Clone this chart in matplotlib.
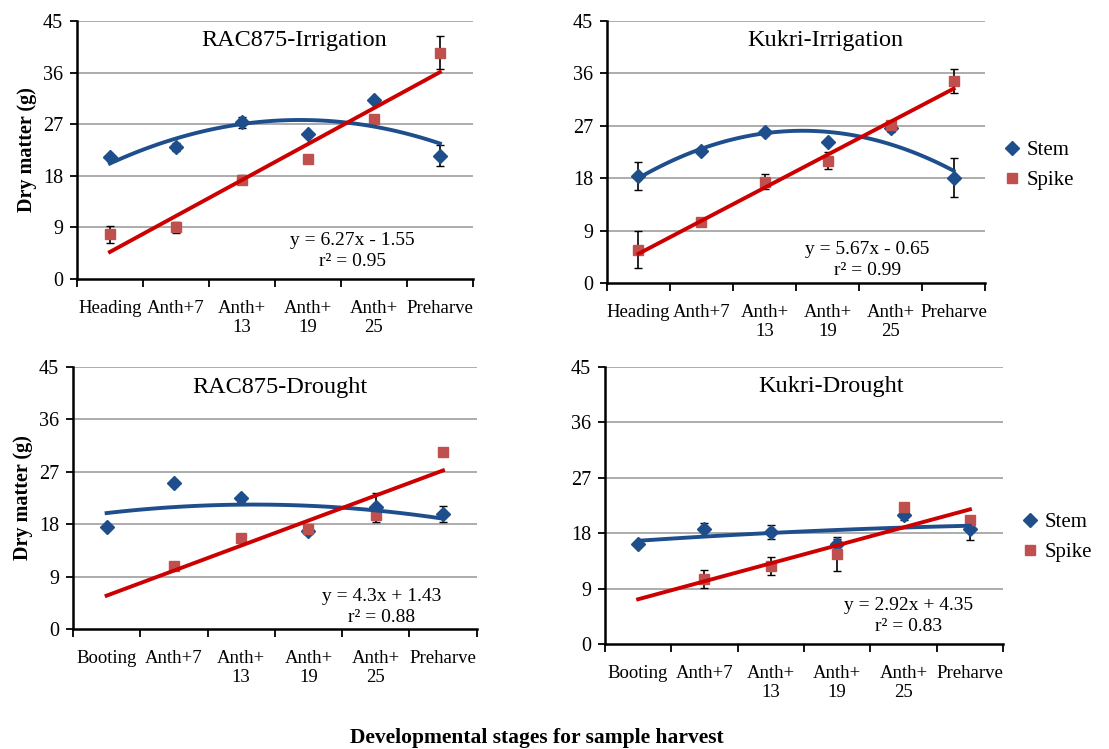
import matplotlib.pyplot as plt
import numpy as np

plt.rcParams["font.family"] = ["Liberation Serif", "DejaVu Serif"]

# valores medios de materia seca (g) por estadio
stages_irr = ["Heading", "Anth+7", "Anth+\n13", "Anth+\n19", "Anth+\n25", "Preharve"]
stages_dro = ["Booting", "Anth+7", "Anth+\n13", "Anth+\n19", "Anth+\n25", "Preharve"]

rac_irr_stem = [21.2, 23.0, 27.3, 25.3, 31.3, 21.5]
rac_irr_stem_err = [0.5, 0.7, 0.9, 0.0, 0.0, 1.8]
rac_irr_spike = [7.8, 9.0, 17.3, 21.0, 27.9, 39.5]
rac_irr_spike_err = [1.5, 1.0, 0.8, 0.0, 0.0, 2.8]

kuk_irr_stem = [18.4, 22.6, 25.9, 24.2, 26.6, 18.1]
kuk_irr_stem_err = [2.35, 0.5, 0.4, 0.0, 0.6, 3.4]
kuk_irr_spike = [5.7, 10.4, 17.4, 21.0, 27.1, 34.7]
kuk_irr_spike_err = [3.2, 0.0, 1.3, 1.5, 0.8, 2.0]

rac_dro_stem = [17.5, 25.1, 22.5, 16.9, 20.9, 19.8]
rac_dro_stem_err = [0.0, 0.5, 0.6, 0.6, 2.5, 1.4]
rac_dro_spike = [np.nan, 10.8, 15.6, 17.2, 19.6, 30.4]
rac_dro_spike_err = [0.0, 0.0, 0.0, 0.0, 0.0, 0.0]

kuk_dro_stem = [16.2, 18.7, 18.2, 16.2, 20.9, 18.7]
kuk_dro_stem_err = [0.0, 1.0, 1.2, 0.8, 0.8, 1.8]
kuk_dro_spike = [np.nan, 10.6, 12.7, 14.6, 22.3, 20.2]
kuk_dro_spike_err = [0.0, 1.5, 1.5, 2.8, 0.3, 0.4]

# recta de tendencia de la espiga (pendiente, ordenada, r2)
slopes = [6.27, 5.67, 4.3, 2.92]
intercepts = [-1.55, -0.65, 1.43, 4.35]
r2 = [0.95, 0.99, 0.88, 0.83]

titles = ["RAC875-Irrigation", "Kukri-Irrigation", "RAC875-Drought", "Kukri-Drought"]

stem_c = "#1F4E8C"
spike_c = "#C0504D"
red = "#CC0000"

fig = plt.figure(figsize=(11.09, 7.49), dpi=100)

boxes = [
    [0.0694, 0.6275, 0.357, 0.3445],
    [0.5473, 0.6222, 0.341, 0.3498],
    [0.0658, 0.1602, 0.364, 0.3498],
    [0.5455, 0.1402, 0.359, 0.3698],
]
eq_pos = [(4.68, 6.8, 3.0), (4.63, 5.8, 2.1), (5.09, 5.5, 1.9), (5.08, 6.2, 2.9)]
title_pos = [(0.548, 0.925), (0.577, 0.925), (0.513, 0.922), (0.568, 0.93)]
legend_y = [None, 0.45, None, 0.386]

data = [
    (stages_irr, rac_irr_stem, rac_irr_stem_err, rac_irr_spike, rac_irr_spike_err),
    (stages_irr, kuk_irr_stem, kuk_irr_stem_err, kuk_irr_spike, kuk_irr_spike_err),
    (stages_dro, rac_dro_stem, rac_dro_stem_err, rac_dro_spike, rac_dro_spike_err),
    (stages_dro, kuk_dro_stem, kuk_dro_stem_err, kuk_dro_spike, kuk_dro_spike_err),
]

x = np.arange(1, 7)

for i in range(4):
    ax = fig.add_axes(boxes[i])
    labels, stem, stem_err, spike, spike_err = data[i]

    for yv in [9, 18, 27, 36, 45]:
        ax.axhline(yv, color="#A6A6A6", lw=1.3, zorder=0)

    ax.errorbar(x, stem, yerr=stem_err, fmt="none", ecolor="black", elinewidth=1.2, capsize=3, zorder=2)
    ax.errorbar(x, spike, yerr=spike_err, fmt="none", ecolor="black", elinewidth=1.2, capsize=3, zorder=2)
    h1, = ax.plot(x, stem, "D", color=stem_c, ms=7, ls="none", zorder=3, label="Stem")
    h2, = ax.plot(x, spike, "s", color=spike_c, ms=6.5, ls="none", zorder=3, label="Spike")

    # tendencia polinomica de orden 2 para el tallo
    coef = np.polyfit(x, stem, 2)
    xs = np.linspace(1, 6, 100)
    ax.plot(xs, np.polyval(coef, xs), color=stem_c, lw=2.8, zorder=4)

    # tendencia lineal de la espiga
    xl = np.array([1, 6])
    ax.plot(xl, slopes[i] * xl + intercepts[i], color=red, lw=2.8, zorder=4)

    sign = "-" if intercepts[i] < 0 else "+"
    ex, ey1, ey2 = eq_pos[i]
    ax.text(ex, ey1, "y = %gx %s %.2f" % (slopes[i], sign, abs(intercepts[i])), ha="center", va="center", fontsize=14)
    ax.text(ex, ey2, "r\u00b2 = %.2f" % r2[i], ha="center", va="center", fontsize=14)

    tx, ty = title_pos[i]
    ax.text(tx, ty, titles[i], transform=ax.transAxes, ha="center", va="center", fontsize=17.5)

    ax.set_xlim(0.5, 6.5)
    ax.set_ylim(0, 45)
    ax.set_yticks([0, 9, 18, 27, 36, 45])
    ax.set_xticks(x)
    ax.set_xticklabels(labels, fontsize=13.5, linespacing=1.2)
    ax.set_xticks(np.arange(0.5, 7, 1), minor=True)
    ax.tick_params(axis="x", which="major", length=0, pad=15)
    ax.tick_params(axis="x", which="minor", length=6, width=1.3)
    ax.tick_params(axis="y", labelsize=14.5, length=5, width=1.3, pad=5)
    for s in ["top", "right"]:
        ax.spines[s].set_visible(False)
    ax.spines["left"].set_linewidth(1.8)
    ax.spines["bottom"].set_linewidth(1.8)

    if i % 2 == 0:
        ax.set_ylabel("Dry matter (g)", fontsize=14.5, fontweight="bold", labelpad=4)
    else:
        ax.legend(handles=[h1, h2], loc="center left", bbox_to_anchor=(0.995, legend_y[i]), frameon=False,
                  fontsize=15, handletextpad=0.2, handlelength=1.0, labelspacing=0.5)

fig.text(0.484, 0.015, "Developmental stages for sample harvest", ha="center", va="center",
         fontsize=15.5, fontweight="bold")

plt.savefig("out.png", dpi=100)
